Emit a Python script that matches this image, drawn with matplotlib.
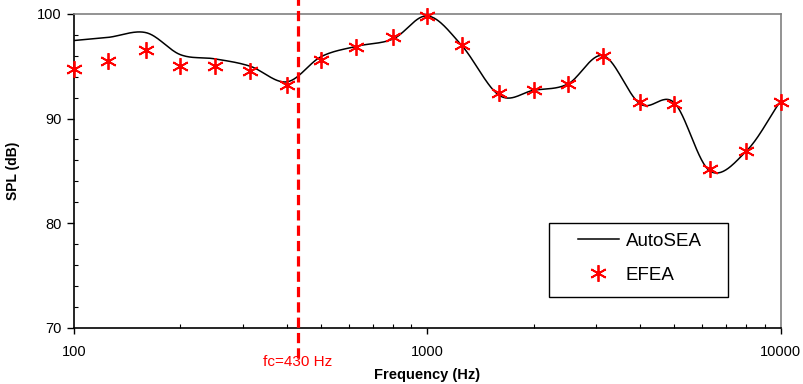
import numpy as np
import matplotlib
matplotlib.use("Agg")
import matplotlib.pyplot as plt
from matplotlib.patches import Rectangle
from matplotlib.ticker import FixedLocator, NullFormatter, LogLocator

plt.rcParams["font.family"] = ["Liberation Sans", "DejaVu Sans"]

# one-third octave band centre frequencies (Hz)
freq = [100, 125, 160, 200, 250, 315, 400, 500, 630, 800, 1000,
        1250, 1600, 2000, 2500, 3150, 4000, 5000, 6300, 8000, 10000]

# SPL (dB) per band
autosea = [97.45, 97.75, 98.2, 96.1, 95.7, 95.0, 93.5, 95.9, 96.9, 97.6, 99.8,
           97.0, 92.2, 92.7, 93.3, 96.0, 91.4, 91.5, 85.0, 86.9, 91.7]
efea = [94.7, 95.5, 96.5, 95.0, 95.0, 94.5, 93.2, 95.6, 96.8, 97.8, 99.8,
        97.0, 92.4, 92.7, 93.3, 96.0, 91.6, 91.4, 85.2, 86.9, 91.6]

fc = 430


def smooth_line(x, y, n=30):
    # Catmull-Rom curve through the points, in log-frequency space
    lx = np.log10(x)
    y = np.asarray(y, float)
    px = np.concatenate([[2 * lx[0] - lx[1]], lx, [2 * lx[-1] - lx[-2]]])
    py = np.concatenate([[2 * y[0] - y[1]], y, [2 * y[-1] - y[-2]]])
    t = np.linspace(0, 1, n, endpoint=False)
    xs, ys = [], []
    for i in range(1, len(px) - 2):
        for p, out in ((px, xs), (py, ys)):
            p0, p1, p2, p3 = p[i - 1], p[i], p[i + 1], p[i + 2]
            out.extend(0.5 * (2 * p1 + (-p0 + p2) * t
                              + (2 * p0 - 5 * p1 + 4 * p2 - p3) * t ** 2
                              + (-p0 + 3 * p1 - 3 * p2 + p3) * t ** 3))
    xs.append(lx[-1])
    ys.append(y[-1])
    return 10 ** np.array(xs), np.array(ys)


fig = plt.figure(figsize=(8.04, 3.84), dpi=100)
ax = fig.add_axes([0.092, 0.146, 0.879, 0.818])

sx, sy = smooth_line(freq, autosea)
ax.plot(sx, sy, color="black", lw=1.1, label="AutoSEA", zorder=3)
ax.plot(freq, efea, ls="none", marker=(6, 2, 0), ms=12, mew=1.3,
        color="#ff0000", label="EFEA", zorder=4, clip_on=False)

ax.set_xscale("log")
ax.set_xlim(100, 10000)
ax.set_ylim(70, 100)

ax.set_xticks([100, 1000, 10000])
ax.set_xticklabels(["100", "1000", "10000"])
ax.xaxis.set_minor_locator(LogLocator(base=10, subs=np.arange(2, 10)))
ax.xaxis.set_minor_formatter(NullFormatter())
ax.set_yticks([70, 80, 90, 100])
ax.yaxis.set_minor_locator(FixedLocator(np.arange(70, 101, 2)))

ax.tick_params(which="major", direction="out", length=5, width=1,
               labelsize=10.5, pad=4)
ax.tick_params(axis="x", which="major", length=4, pad=8)
ax.tick_params(which="minor", direction="in", length=3, width=0.8)

for s in ("left", "bottom"):
    ax.spines[s].set_color("black")
    ax.spines[s].set_linewidth(1.2)
for s in ("top", "right"):
    ax.spines[s].set_color("#808080")
    ax.spines[s].set_linewidth(1.2)

ax.set_xlabel("Frequency (Hz)", fontsize=10.5, fontweight="bold", labelpad=7)
ax.set_ylabel("SPL (dB)", fontsize=10, fontweight="bold", labelpad=12)

# critical frequency marker
ax.axvline(fc, ymin=-0.095, ymax=1.05, color="#ff0000", lw=2.3,
           dashes=(3.2, 1.6), clip_on=False, zorder=5)
ax.text(fc, 66.75, "fc=%d Hz" % fc, color="#ff0000", fontsize=11,
        ha="center", va="center")

# legend box drawn separately so it can be wider than its contents
ax.add_patch(Rectangle((0.672, 0.099), 0.254, 0.235, transform=ax.transAxes,
                       fill=True, facecolor="white", edgecolor="black",
                       lw=1.0, zorder=6))
leg = ax.legend(loc="center left", bbox_to_anchor=(0.713, 0.222),
                fontsize=13.5, frameon=False, handlelength=2.2,
                borderpad=0, labelspacing=0.9, handletextpad=0.35,
                borderaxespad=0)
leg.set_zorder(7)

fig.savefig("out.png", dpi=100)
